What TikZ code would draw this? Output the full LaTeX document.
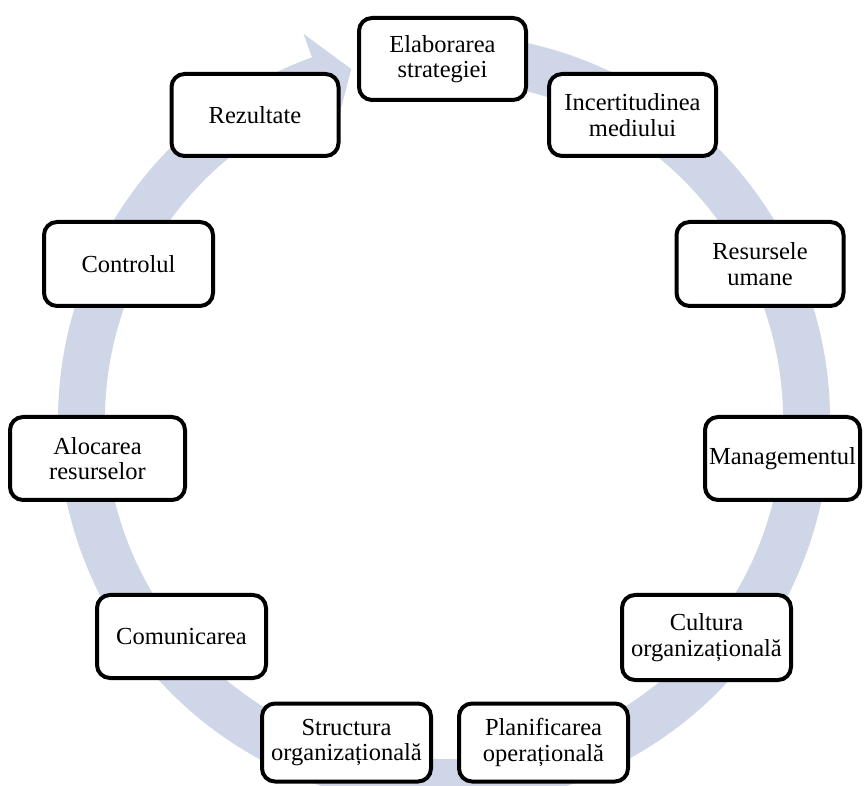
\documentclass[tikz,border=0pt]{standalone}
\usepackage{fontspec}
\setmainfont{Liberation Serif}
\definecolor{ringblue}{RGB}{207,214,232}
\begin{document}
\begin{tikzpicture}[x=1pt,y=1pt,
  box/.style={draw=black, line width=4pt, rounded corners=13pt, fill=white,
    align=center, inner sep=0pt, minimum width=167pt, minimum height=82pt,
    font=\fontsize{24.5}{25.5}\selectfont},
  ring/.style={fill=ringblue}]
\useasboundingbox (0,0) rectangle (865,785);
\clip (0,0) rectangle (865,785);
% circular arrow
\begin{scope}[shift={(444,365)}]
\fill[ring] (85:386) arc[start angle=85, end angle=-250, radius=386]
  -- (-250:411) -- (-255.2:363) -- (-250:314) -- (-250:339)
  arc[start angle=-250, end angle=85, radius=339] -- cycle;
\end{scope}
% boxes (y = 785 - pixel y)
\node[box] (elab) at (442.5,726) {Elaborarea\\strategiei};
\node[box] (incert) at (632.5,670) {Incertitudinea\\mediului};
\node[box, minimum height=84pt] (resurse) at (760,521) {Resursele\\umane};
\node[box, minimum width=155pt, minimum height=83pt] (mgmt) at (782.5,326.5) {Managementul};
\node[box, minimum width=169pt, minimum height=85pt] (cultura) at (706.5,147.5) {Cultura\\organizațională};
\node[box, minimum width=169pt, minimum height=78pt] (planif) at (543.5,42.5) {Planificarea\\operațională};
\node[box, minimum width=169pt, minimum height=78pt] (struct) at (346.5,42.5) {Structura\\organizațională};
\node[box, minimum width=169pt, minimum height=83pt] (comun) at (181.5,148.5) {Comunicarea};
\node[box, minimum width=175pt, minimum height=83pt] (aloc) at (97.5,326.5) {Alocarea\\resurselor};
\node[box, minimum width=169pt, minimum height=84pt] (control) at (128.5,521) {Controlul};
\node[box] (rezult) at (255,670) {Rezultate};
\end{tikzpicture}
\end{document}
